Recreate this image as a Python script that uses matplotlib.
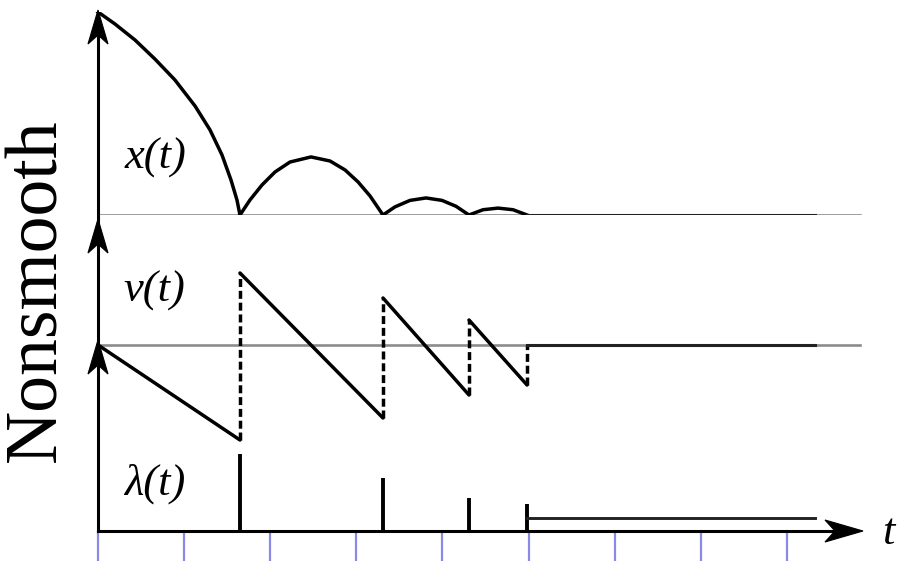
import matplotlib
matplotlib.use("Agg")
import matplotlib.pyplot as plt
from matplotlib.patches import Polygon

# ---------------- data ----------------
tick_times = [0, 1, 2, 3, 4, 5, 6, 7, 8]
impact_times = [1.649, 3.310, 4.309, 4.983]
t_end = 8.328

# x(t): position (normalised to initial height)
arc1_t = [0.000, 0.197, 0.430, 0.662, 0.894, 1.127, 1.301, 1.440, 1.545, 1.614, 1.649]
arc1_x = [1.000, 0.941, 0.862, 0.768, 0.665, 0.537, 0.419, 0.296, 0.172, 0.074, 0.000]
arc2_t = [1.649, 1.765, 1.905, 2.056, 2.230, 2.474, 2.695, 2.869, 3.020, 3.159, 3.310]
arc2_x = [0.000, 0.074, 0.148, 0.212, 0.261, 0.286, 0.266, 0.222, 0.163, 0.094, 0.000]
arc3_t = [3.310, 3.449, 3.624, 3.810, 3.995, 4.158, 4.309]
arc3_x = [0.000, 0.040, 0.072, 0.084, 0.072, 0.043, 0.000]
arc4_t = [4.309, 4.472, 4.646, 4.820, 4.983]
arc4_x = [0.000, 0.026, 0.034, 0.026, 0.000]

# v(t): velocity just after (v_plus) and just before (v_minus) each impact
v_start = 0.0
v_minus = [-0.95, -0.73, -0.50, -0.40]
v_plus = [0.72, 0.47, 0.25, 0.0]

# lambda(t): impulse heights and resting contact force
lam_impulse = [0.77, 0.53, 0.33, 0.27]
lam_rest = 0.13

# ---------------- layout (pixels) ----------------
W, H = 899, 563
X0 = 98            # pixel of t = 0
PX_PER_T = 86.1
fig = plt.figure(figsize=(W / 100, H / 100), dpi=100)
xlim = (-X0 / PX_PER_T, (W - X0) / PX_PER_T)

def rect(py_bottom, py_top):
    return [0, (H - py_bottom) / H, 1, (py_bottom - py_top) / H]

ax_x = fig.add_axes(rect(215, 12))
ax_x.set_ylim(0, 1.0)
ax_v = fig.add_axes(rect(445, 245))
ax_v.set_ylim(-1.0, 1.0)
ax_l = fig.add_axes(rect(531, 431))
ax_l.set_ylim(0, 1.0)
for a in (ax_x, ax_v, ax_l):
    a.set_xlim(*xlim)
    a.patch.set_alpha(0)
    for s in a.spines.values():
        s.set_visible(False)
    a.set_yticks([])
    a.set_xticks([])

BLACK_LW = 2.5
GRAY = "#8c8c8c"
GRAY_LW = 1.9
t_axis_end = 8.85

# x(t) panel
ax_x.plot([0, t_axis_end], [0, 0], color=GRAY, lw=GRAY_LW, zorder=1)
for tt, xx in ((arc1_t, arc1_x), (arc2_t, arc2_x), (arc3_t, arc3_x), (arc4_t, arc4_x)):
    ax_x.plot(tt, xx, color="black", lw=BLACK_LW, solid_joinstyle="round", zorder=3)
ax_x.plot([impact_times[-1], t_end], [0, 0], color="#222222", lw=BLACK_LW - 0.3, zorder=3)

# v(t) panel
ax_v.plot([0, t_axis_end], [0, 0], color=GRAY, lw=GRAY_LW, zorder=1)
starts = [0.0] + impact_times[:-1]
vstarts = [v_start] + v_plus[:-1]
for t0, t1, va, vb in zip(starts, impact_times, vstarts, v_minus):
    ax_v.plot([t0, t1], [va, vb], color="black", lw=BLACK_LW, solid_capstyle="round", zorder=3)
for ti, vm, vp in zip(impact_times, v_minus, v_plus):
    ax_v.plot([ti, ti], [vm, vp], color="black", lw=BLACK_LW,
              linestyle=(0, (2.3, 1.1)), zorder=3)
ax_v.plot([impact_times[-1], t_end], [0, 0], color="#222222", lw=BLACK_LW - 0.3, zorder=3)

# lambda(t) panel
ax_l.vlines(impact_times, 0, lam_impulse, color="black", lw=BLACK_LW + 0.3, zorder=3)
ax_l.plot([impact_times[-1], t_end], [lam_rest, lam_rest], color="#222222", lw=BLACK_LW - 0.4, zorder=3)
ax_l.set_xticks(tick_times)
ax_l.tick_params(axis="x", direction="out", length=21.5, width=1.6,
                 color="#8a8ae6", labelbottom=False)

# ---------------- decorations in pixel coordinates ----------------
deco = fig.add_axes([0, 0, 1, 1])
deco.set_xlim(0, W)
deco.set_ylim(H, 0)
deco.axis("off")
deco.patch.set_alpha(0)

def stealth(tip, direction, L=34, Wd=10, notch=9):
    tx, ty = tip
    dx, dy = direction
    nx, ny = -dy, dx
    bx, by = tx - dx * L, ty - dy * L
    pts = [(tx, ty),
           (bx + nx * Wd, by + ny * Wd),
           (tx - dx * (L - notch), ty - dy * (L - notch)),
           (bx - nx * Wd, by - ny * Wd)]
    deco.add_patch(Polygon(pts, closed=True, facecolor="black", edgecolor="black",
                           lw=0.8, zorder=5))

AX_LW = 2.2
deco.plot([X0, X0], [531, 20], color="black", lw=AX_LW, zorder=4)
deco.plot([X0, 845], [531, 531], color="black", lw=AX_LW, zorder=4)
stealth((X0, 10), (0, -1))
stealth((X0, 219), (0, -1))
stealth((X0, 340), (0, -1))
stealth((863, 531), (1, 0), L=38, Wd=11, notch=10)

serif = ["Liberation Serif", "DejaVu Serif"]
deco.text(38, 290, "Nonsmooth", rotation=90, ha="center", va="center",
          fontsize=53, family=serif)
deco.text(155, 158, "x(t)", ha="center", va="center", fontsize=32,
          family=serif, style="italic")
deco.text(154, 291, "v(t)", ha="center", va="center", fontsize=32,
          family=serif, style="italic")
deco.text(155, 484, "λ(t)", ha="center", va="center", fontsize=32,
          family=serif, style="italic")
deco.text(888, 533, "t", ha="center", va="center", fontsize=32,
          family=serif, style="italic")

fig.savefig("out.png", dpi=100)
